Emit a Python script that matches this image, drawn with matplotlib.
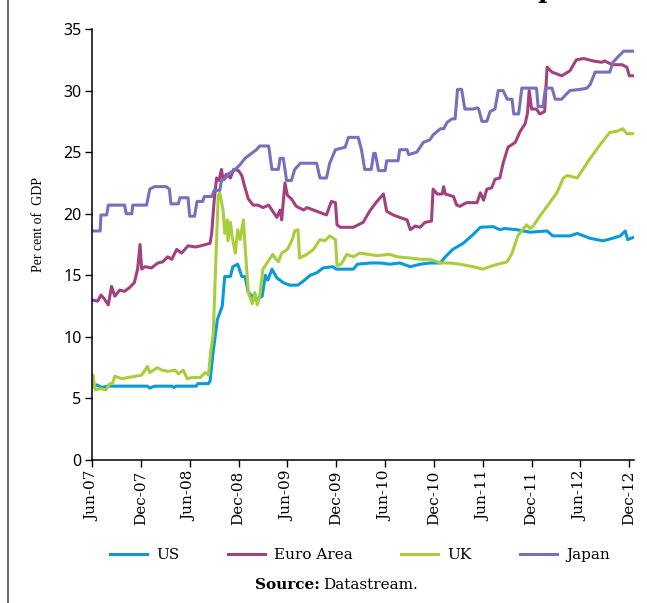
import matplotlib
matplotlib.use("Agg")
import matplotlib.pyplot as plt
from matplotlib.lines import Line2D

# months counted from Jun-07 (0) to Dec-12 (66)
tick_months = [0, 6, 12, 18, 24, 30, 36, 42, 48, 54, 60, 66]
tick_labels = ["Jun-07", "Dec-07", "Jun-08", "Dec-08", "Jun-09", "Dec-09",
               "Jun-10", "Dec-10", "Jun-11", "Dec-11", "Jun-12", "Dec-12"]

us_months = [0.0, 0.6, 1.2, 2.0, 6.1, 6.8, 7.1, 7.7, 9.8, 10.1,
             10.3, 12.8, 13.0, 14.3, 14.5, 14.9, 15.4, 16.0, 16.3, 17.0,
             17.3, 17.9, 18.4, 18.8, 19.2, 19.7, 20.1, 20.9, 21.3, 21.6,
             22.1, 22.7, 23.5, 24.3, 25.3, 25.9, 26.8, 27.6, 28.4, 29.6,
             30.0, 32.1, 32.6, 34.2, 35.4, 36.6, 37.8, 39.1, 40.3, 41.5,
             42.8, 43.4, 44.3, 45.6, 46.8, 47.7, 49.3, 50.1, 50.7, 52.2,
             53.8, 55.9, 56.6, 58.7, 59.6, 61.2, 62.8, 63.9, 64.9, 65.5,
             65.8, 66.6]
us_values = [5.9, 6.1, 5.9, 6.0, 6.0, 6.0, 5.85, 6.0, 6.0, 5.9,
             6.0, 6.0, 6.2, 6.2, 6.4, 8.9, 11.4, 12.5, 14.9, 14.9,
             15.7, 15.9, 14.9, 14.9, 13.6, 13.3, 13.0, 13.3, 15.0, 14.6,
             15.5, 14.8, 14.4, 14.2, 14.2, 14.5, 15.0, 15.2, 15.6, 15.7,
             15.5, 15.5, 15.9, 16.0, 16.0, 15.9, 16.0, 15.7, 15.9, 16.0,
             16.0, 16.5, 17.1, 17.6, 18.3, 18.9, 18.95, 18.7, 18.8, 18.7,
             18.5, 18.6, 18.2, 18.2, 18.4, 18.0, 17.8, 18.0, 18.2, 18.6,
             17.9, 18.1]

euro_months = [0.0, 0.7, 1.1, 1.5, 2.0, 2.4, 2.8, 3.4, 4.0, 4.6,
               5.2, 5.6, 5.9, 6.1, 6.5, 7.3, 8.1, 8.7, 9.3, 9.8,
               10.4, 11.0, 11.8, 12.7, 13.4, 14.5, 14.7, 15.0, 15.3, 15.6,
               15.9, 16.1, 16.5, 17.0, 17.4, 18.0, 18.4, 18.8, 19.2, 19.8,
               20.4, 21.0, 21.7, 22.3, 22.7, 23.1, 23.3, 23.7, 24.0, 24.5,
               25.1, 26.0, 26.4, 27.2, 28.0, 28.8, 29.4, 29.9, 30.1, 30.5,
               32.1, 33.3, 34.2, 35.0, 35.8, 36.2, 37.0, 37.8, 38.7, 39.1,
               39.7, 40.3, 40.9, 41.7, 41.9, 42.4, 43.0, 43.2, 43.4, 44.4,
               44.8, 45.2, 46.0, 47.3, 47.7, 48.1, 48.5, 49.1, 49.5, 50.1,
               50.5, 51.1, 52.0, 52.6, 53.2, 53.5, 53.7, 54.0, 54.6, 55.0,
               55.6, 55.9, 56.5, 57.7, 58.7, 59.5, 60.4, 61.6, 62.6, 63.0,
               63.9, 65.1, 65.7, 66.0, 66.6]
euro_values = [13.0, 12.9, 13.4, 13.1, 12.6, 14.1, 13.3, 13.8, 13.7, 14.0,
               14.4, 15.5, 17.5, 15.5, 15.7, 15.6, 16.0, 16.1, 16.5, 16.3,
               17.1, 16.8, 17.4, 17.3, 17.4, 17.6, 18.4, 21.0, 22.9, 22.7,
               23.6, 22.8, 23.2, 22.9, 23.6, 23.5, 23.1, 22.1, 21.2, 20.7,
               20.7, 20.5, 20.7, 20.1, 19.7, 20.3, 19.5, 22.5, 21.5, 21.2,
               20.6, 20.3, 20.5, 20.3, 20.1, 19.9, 21.0, 20.9, 19.1, 18.9,
               18.9, 19.3, 20.3, 21.0, 21.6, 20.2, 19.9, 19.7, 19.5, 18.7,
               19.0, 18.9, 19.3, 19.4, 22.0, 21.6, 21.6, 22.2, 21.6, 21.4,
               20.7, 20.6, 20.9, 20.9, 21.7, 21.1, 22.0, 22.1, 22.8, 22.9,
               24.1, 25.4, 25.8, 26.7, 27.3, 28.2, 30.0, 28.5, 28.5, 28.1,
               28.3, 31.9, 31.5, 31.2, 31.6, 32.5, 32.6, 32.4, 32.3, 32.4,
               32.1, 32.1, 31.9, 31.2, 31.2]

uk_months = [0.0, 0.1, 0.4, 1.0, 1.7, 2.2, 2.5, 2.8, 3.7, 4.4,
             5.3, 6.1, 6.8, 7.1, 8.0, 8.6, 9.3, 10.2, 10.6, 11.2,
             11.7, 12.3, 13.3, 13.9, 14.3, 14.6, 14.9, 15.1, 15.5, 15.7,
             16.1, 16.3, 16.6, 16.7, 17.0, 17.2, 17.6, 17.9, 18.2, 18.6,
             18.8, 19.2, 19.7, 20.0, 20.3, 20.6, 21.0, 21.5, 21.9, 22.2,
             22.5, 22.9, 23.3, 24.0, 24.6, 24.9, 25.3, 25.5, 26.4, 27.2,
             28.0, 28.6, 29.2, 29.9, 30.1, 30.6, 31.3, 32.1, 32.9, 35.0,
             36.6, 37.5, 39.1, 40.3, 41.5, 42.8, 44.0, 45.2, 46.8, 48.0,
             49.3, 51.0, 51.6, 52.3, 53.0, 53.4, 53.8, 54.2, 55.0, 55.9,
             57.1, 57.9, 58.4, 59.6, 60.3, 61.2, 62.4, 63.6, 64.5, 65.2,
             65.7, 66.6]
uk_values = [6.0, 6.9, 5.7, 5.8, 5.7, 6.2, 6.2, 6.8, 6.6, 6.7,
             6.8, 6.9, 7.6, 7.1, 7.5, 7.3, 7.2, 7.3, 7.0, 7.3,
             6.6, 6.7, 6.7, 7.1, 6.9, 8.9, 10.3, 14.1, 21.4, 21.7,
             20.3, 18.4, 19.5, 17.8, 19.3, 18.2, 16.8, 18.7, 17.9, 19.5,
             17.4, 13.6, 12.7, 13.6, 12.6, 13.3, 15.5, 16.0, 16.4, 16.7,
             16.4, 16.1, 16.8, 17.1, 17.9, 18.6, 18.7, 16.4, 16.7, 17.1,
             17.9, 17.8, 18.2, 17.9, 15.8, 15.9, 16.7, 16.5, 16.8, 16.6,
             16.7, 16.5, 16.4, 16.3, 16.3, 16.0, 16.0, 15.9, 15.7, 15.5,
             15.8, 16.1, 16.8, 18.2, 18.8, 19.1, 18.8, 19.0, 19.8, 20.6,
             21.7, 22.9, 23.1, 22.9, 23.6, 24.5, 25.6, 26.6, 26.7, 26.9,
             26.5, 26.5]

japan_months = [0.0, 1.0, 1.1, 1.8, 2.0, 4.0, 4.2, 4.9, 5.0, 6.7,
                7.1, 7.7, 9.1, 9.5, 9.7, 10.6, 10.8, 11.8, 12.0, 12.6,
                12.9, 13.6, 13.8, 14.7, 15.0, 15.7, 15.9, 16.3, 16.7, 17.6,
                18.2, 18.8, 19.4, 20.2, 20.6, 21.7, 22.1, 22.9, 23.1, 23.5,
                23.9, 24.5, 24.9, 25.6, 27.6, 28.0, 28.8, 29.2, 29.9, 31.1,
                31.5, 32.7, 33.1, 33.5, 34.3, 34.6, 34.8, 35.2, 36.0, 36.2,
                37.6, 37.8, 38.7, 38.9, 39.9, 40.7, 41.5, 41.9, 42.8, 43.2,
                43.6, 44.2, 44.6, 44.9, 45.4, 45.8, 46.8, 47.3, 47.5, 47.9,
                48.5, 48.9, 49.5, 49.9, 50.5, 51.0, 51.6, 51.8, 52.4, 52.8,
                54.6, 54.8, 55.4, 55.7, 56.5, 56.9, 57.7, 58.1, 58.7, 60.0,
                60.8, 61.2, 61.8, 63.6, 64.0, 64.7, 65.3, 66.6]
japan_values = [18.6, 18.6, 19.9, 19.9, 20.7, 20.7, 20.0, 20.0, 20.7, 20.7,
                22.0, 22.2, 22.2, 22.0, 20.8, 20.8, 21.3, 21.3, 19.8, 19.8,
                21.0, 21.0, 21.4, 21.4, 21.9, 21.9, 22.7, 22.8, 23.2, 23.6,
                24.0, 24.5, 24.8, 25.2, 25.5, 25.5, 23.6, 23.6, 24.5, 24.5,
                22.7, 22.7, 23.6, 24.1, 24.1, 22.9, 22.9, 24.1, 25.2, 25.4,
                26.2, 26.2, 25.2, 23.6, 23.6, 24.9, 24.9, 23.5, 23.5, 24.3,
                24.3, 25.2, 25.2, 24.8, 25.0, 25.8, 26.0, 26.4, 26.9, 26.9,
                27.4, 27.7, 27.7, 30.1, 30.1, 28.5, 28.5, 28.6, 28.5, 27.5,
                27.5, 28.3, 28.5, 30.0, 30.0, 29.3, 29.3, 28.1, 28.1, 30.2,
                30.2, 28.7, 28.7, 30.2, 30.2, 29.3, 29.3, 29.6, 30.0, 30.1,
                30.2, 30.5, 31.5, 31.5, 32.3, 32.8, 33.2, 33.2]

series_names = ["US", "Euro Area", "UK", "Japan"]
series_colors = ["#0a9ad8", "#a3417f", "#a7cf3b", "#7670bf"]

SERIF = "DejaVu Serif"


def draw_chart():
    """
    Build the figure: four debt lines, axes, legend and source note
    """
    fig = plt.figure(figsize=(6.47, 6.03), dpi=100)
    ax = fig.add_axes([0.1422, 0.2371, 0.838, 0.7148])

    months = [us_months, euro_months, uk_months, japan_months]
    values = [us_values, euro_values, uk_values, japan_values]
    for m, v, name, col in zip(months, values, series_names, series_colors):
        ax.plot(m, v, color=col, lw=2.2, label=name, solid_joinstyle="round")

    ax.set_xlim(0, 66.6)
    ax.set_ylim(0, 35)
    ax.set_yticks(range(0, 36, 5))
    ax.set_xticks(tick_months)
    ax.set_xticklabels(tick_labels, rotation=90, family=SERIF, fontsize=11)
    for lab in ax.get_yticklabels():
        lab.set_family("Noto Sans")
        lab.set_fontsize(11.5)
    ax.tick_params(direction="out", length=5, width=1, pad=2.5)

    for side in ["top", "right"]:
        ax.spines[side].set_visible(False)
    for side in ["left", "bottom"]:
        ax.spines[side].set_linewidth(1.1)

    # y label placed on the figure
    fig.text(38 / 647, 1 - 225 / 603, "Per cent of  GDP", rotation=90,
             ha="center", va="center", family="Liberation Serif", fontsize=10)

    # legend under the axis labels
    fig.legend(loc="center", bbox_to_anchor=(360 / 647, 1 - 555 / 603), ncol=4,
               frameon=False, handlelength=2.4, handletextpad=0.6,
               columnspacing=3.2, prop={"family": SERIF, "size": 11})

    # source note, bold prefix
    fig.text(320 / 647, 1 - 585 / 603, "Source:", ha="right", va="center",
             family=SERIF, fontsize=11, weight="bold")
    fig.text(323 / 647, 1 - 585 / 603, "Datastream.", ha="left", va="center",
             family=SERIF, fontsize=11)

    # left frame border of the page and the cut title fragment at the top
    fig.add_artist(Line2D([8 / 647, 8 / 647], [0, 1], color="#707070", lw=1.5,
                          transform=fig.transFigure))
    fig.text(546 / 647, 1 + 2 / 603, "p", ha="center", va="baseline",
             family=SERIF, fontsize=18, weight="bold")

    fig.savefig("out.png", dpi=100)


def main():
    draw_chart()


if __name__ == "__main__":
    main()
